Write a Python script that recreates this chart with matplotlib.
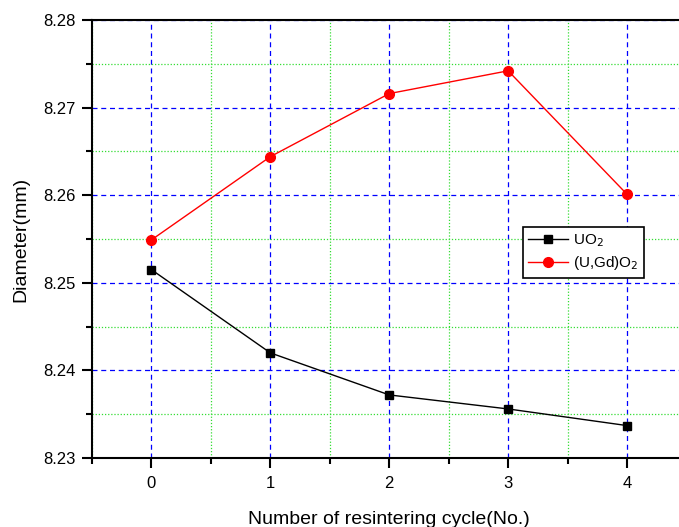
import matplotlib
matplotlib.use("Agg")
import matplotlib.pyplot as plt
from matplotlib.ticker import MultipleLocator, FormatStrFormatter

plt.rcParams['font.family'] = ['Liberation Sans', 'DejaVu Sans']

cycles = [0, 1, 2, 3, 4]
uo2 = [8.2515, 8.2420, 8.2372, 8.2356, 8.2337]
ugd = [8.2549, 8.2644, 8.2716, 8.2742, 8.2601]
labels = ['UO$_2$', '(U,Gd)O$_2$']

fig = plt.figure(figsize=(6.79, 5.27), dpi=100)
ax = fig.add_axes([92/679, 1-458/527, (686.5-92)/679, 438/527])

ax.plot(cycles, uo2, color='black', marker='s', markersize=6, lw=1, label=labels[0], zorder=3)
ax.plot(cycles, ugd, color='red', marker='o', markersize=7, lw=1, label=labels[1], zorder=3)

ax.set_xlim(-0.5, 4.5)
ax.set_ylim(8.23, 8.28)
ax.xaxis.set_major_locator(MultipleLocator(1))
ax.xaxis.set_minor_locator(MultipleLocator(0.5))
ax.yaxis.set_major_locator(MultipleLocator(0.01))
ax.yaxis.set_minor_locator(MultipleLocator(0.005))
ax.yaxis.set_major_formatter(FormatStrFormatter('%.2f'))

ax.grid(which='major', color='blue', linestyle=(0, (4, 3)), lw=0.9)
ax.grid(which='minor', color='#33dd33', linestyle=(0, (1, 1.5)), lw=0.9)
ax.set_axisbelow(True)

for s in ['left', 'bottom', 'top', 'right']:
    ax.spines[s].set_linewidth(1.5)

ax.tick_params(which='major', direction='out', length=7, width=1.5, labelsize=12, top=False, right=False)
ax.tick_params(which='minor', direction='out', length=4, width=1.5, top=False, right=False)
ax.tick_params(axis='x', which='major', pad=6)
ax.tick_params(axis='y', which='major', pad=5)

ax.set_xlabel('Number of resintering cycle(No.)', fontsize=14, labelpad=14)
ax.set_ylabel('Diameter(mm)', fontsize=14, labelpad=10)

leg = ax.legend(loc='upper left', bbox_to_anchor=((523-92)/594.5, (458-227)/438), fontsize=11,
                frameon=True, fancybox=False, edgecolor='black', framealpha=1,
                borderpad=0.35, handlelength=2.6, handletextpad=0.35, labelspacing=0.35,
                borderaxespad=0)
leg.get_frame().set_linewidth(1.2)

fig.savefig('out.png', dpi=100)
